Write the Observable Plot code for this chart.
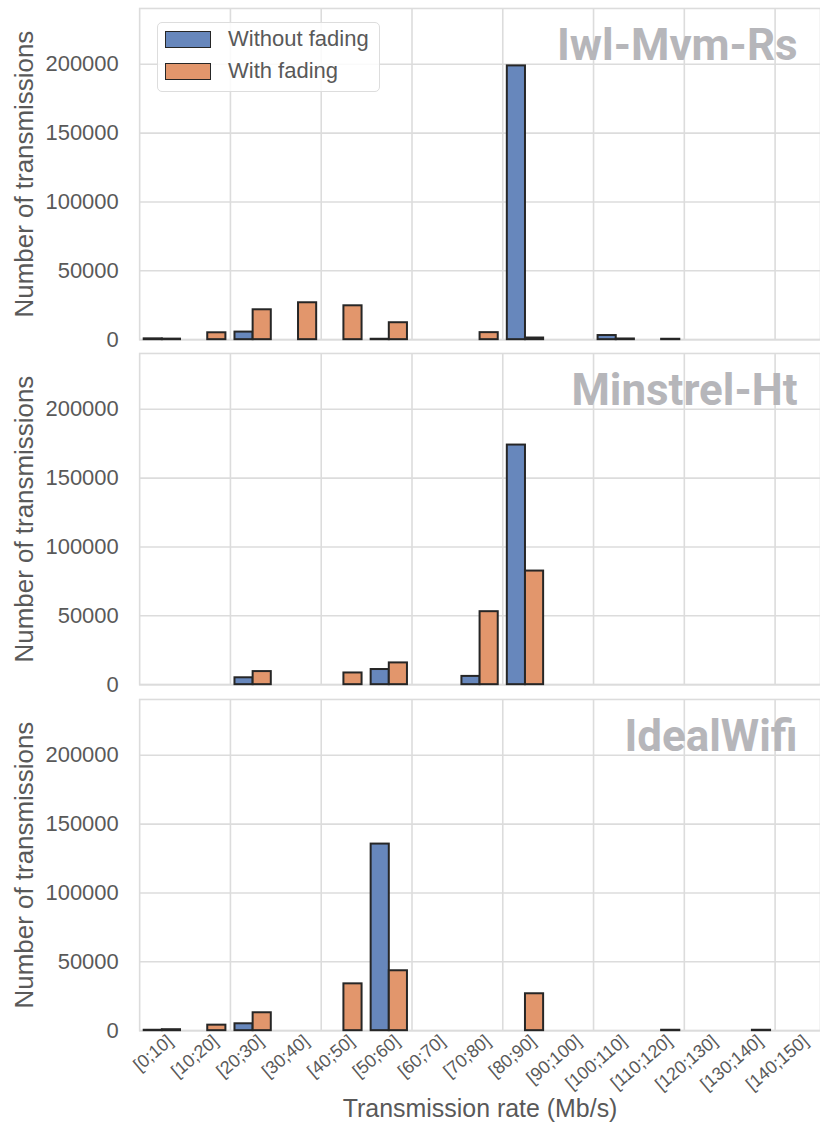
<!DOCTYPE html>
<html><head><meta charset="utf-8">
<script src="https://cdn.jsdelivr.net/npm/d3@7"></script>
<script src="https://cdn.jsdelivr.net/npm/@observablehq/plot@0.6"></script>
<style>
body{margin:0;background:#fff;}
#wrap{position:relative;width:820px;height:1124px;overflow:hidden;font-family:"Liberation Sans",Arial,sans-serif;}
.panel{position:absolute;left:0;}
#legend{position:absolute;left:157px;top:22px;width:223px;height:70px;border:1.5px solid #dddddd;border-radius:5px;background:rgba(255,255,255,0.85);box-sizing:border-box;}
.item{position:absolute;left:7px;height:16px;display:flex;align-items:center;}
.sw{width:46px;height:17px;border:1.5px solid #262626;box-sizing:border-box;}
.lab{margin-left:17px;font-size:22px;color:#595959;line-height:22px;}
</style></head>
<body><div id="wrap"></div>
<script>
const categories = ["[0;10]","[10;20]","[20;30]","[30;40]","[40;50]","[50;60]","[60;70]","[70;80]","[80;90]","[90;100]","[100;110]","[110;120]","[120;130]","[130;140]","[140;150]"];
const seriesNames = ["Without fading","With fading"];
const seriesColors = ["#6787bc","#e2966c"];
const panelTitles = ["Iwl-Mvm-Rs","Minstrel-Ht","IdealWifi"];
const yTicks = [0,50000,100000,150000,200000];

const iwlWithout   = [600,0,5500,0,0,300,0,0,198800,0,3000,0,0,0,0];
const iwlWith      = [400,5000,21700,26800,24600,12300,0,5100,1200,0,500,300,0,0,0];
const minstrelWithout = [0,0,5000,0,0,11000,0,6000,174000,0,0,0,0,0,0];
const minstrelWith    = [0,0,9500,0,8500,15800,0,53000,82500,0,0,0,0,0,0];
const idealWithout = [300,0,5000,0,0,135500,0,0,0,0,0,0,0,0,0];
const idealWith    = [700,4000,13000,0,34000,43500,0,0,26800,0,0,300,0,300,0];

const panels = [
  {title: panelTitles[0], values: [iwlWithout, iwlWith]},
  {title: panelTitles[1], values: [minstrelWithout, minstrelWith]},
  {title: panelTitles[2], values: [idealWithout, idealWith]}
];

const gridXs = categories.map((c,i)=>i).filter(i=>i%2===1 && i<categories.length-1).map(i=>i+0.5);
const grey = "#595959";
const gridC = "#dcdcdc";
const tops = [0,345,691];

panels.forEach((p, k) => {
  const rows = [];
  p.values.forEach((vals, s) => vals.forEach((v, i) => {
    if (v > 0) rows.push({i, s, series: seriesNames[s], value: v});
  }));
  const bottom = k === 2;
  const marks = [
    Plot.gridY(yTicks, {stroke: gridC, strokeOpacity: 1, strokeWidth: 1.6}),
    Plot.gridX(gridXs, {stroke: gridC, strokeOpacity: 1, strokeWidth: 1.6}),
    Plot.frame({stroke: gridC, strokeWidth: 1.6}),
    Plot.axisY({ticks: yTicks, tickSize: 0, tickPadding: 21, fontSize: 22, label: null, tickFormat: d => String(d)}),
    Plot.text(["Number of transmissions"], {frameAnchor: "left", textAnchor: "middle", lineAnchor: "middle", rotate: -90, dx: -115, fontSize: 26, fill: grey}),
    Plot.rectY(rows, {x1: d => d.i - 0.4 + d.s * 0.4, x2: d => d.i + d.s * 0.4, y1: 0, y2: "value", fill: "series", stroke: "#262626", strokeWidth: 2}),
    Plot.text([p.title], {frameAnchor: "top-right", dx: -23, dy: 52, lineAnchor: "bottom", textAnchor: "end", fontSize: 44, fontWeight: 700, fontFamily: "Roboto", fill: "#b6b6ba"})
  ];
  if (bottom) {
    marks.push(Plot.axisX({ticks: d3.range(categories.length), tickFormat: i => categories[i], tickRotate: -40, tickSize: 0, tickPadding: 8, dx: 8, fontSize: 18, label: null}));
    marks.push(Plot.text(["Transmission rate (Mb/s)"], {frameAnchor: "bottom", lineAnchor: "middle", textAnchor: "middle", dy: 79, fontSize: 25, fill: grey}));
  } else {
    marks.push(Plot.axisX({ticks: [], label: null}));
  }
  const chart = Plot.plot({
    width: 822,
    height: bottom ? 433 : 345,
    marginTop: 8,
    marginBottom: bottom ? 93 : 5,
    marginLeft: 139.5,
    marginRight: 0,
    style: {fontFamily: '"Liberation Sans", Arial, sans-serif', color: grey, background: "transparent", overflow: "visible"},
    x: {type: "linear", domain: [-0.5, categories.length - 0.5]},
    y: {domain: [0, 240500]},
    color: {domain: seriesNames, range: seriesColors},
    marks
  });
  chart.classList.add("panel");
  chart.style.top = tops[k] + "px";
  document.getElementById("wrap").appendChild(chart);
});

const leg = document.createElement("div");
leg.id = "legend";
seriesNames.forEach((n, s) => {
  const it = document.createElement("div");
  it.className = "item";
  it.style.top = (8 + s * 32) + "px";
  it.innerHTML = `<div class="sw" style="background:${seriesColors[s]}"></div><div class="lab">${n}</div>`;
  leg.appendChild(it);
});
document.getElementById("wrap").appendChild(leg);
</script></body></html>
